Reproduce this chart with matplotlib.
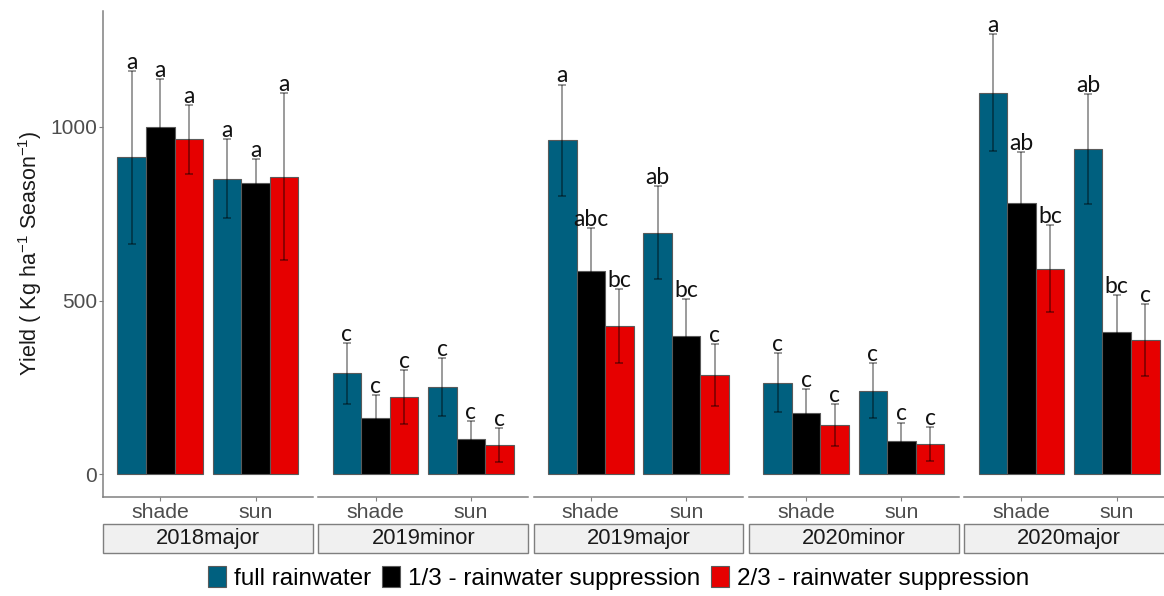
import matplotlib
matplotlib.use("Agg")
import matplotlib.pyplot as plt
import numpy as np
from matplotlib.patches import Rectangle, Patch

plt.rcParams['font.family'] = ['Liberation Sans', 'DejaVu Sans']
plt.rcParams['mathtext.default'] = 'regular'

# data
seasons = ['2018major', '2019minor', '2019major', '2020minor', '2020major']
lights = ['shade', 'sun']
treatments = ['full rainwater', '1/3 - rainwater suppression', '2/3 - rainwater suppression']

# order: season x light  (shade, sun) for every season
full_mean = [912, 851, 291, 252, 962, 696, 264, 241, 1099, 936]
third_mean = [1000, 838, 163, 102, 585, 398, 177, 97, 780, 410]
twothird_mean = [964, 857, 223, 84, 427, 286, 142, 87, 592, 386]

full_se = [250, 113, 88, 83, 160, 135, 84, 80, 169, 159]
third_se = [137, 69, 65, 52, 123, 106, 69, 52, 148, 107]
twothird_se = [100, 241, 78, 48, 107, 88, 61, 48, 125, 103]

full_let = ['a', 'a', 'c', 'c', 'a', 'ab', 'c', 'c', 'a', 'ab']
third_let = ['a', 'a', 'c', 'c', 'abc', 'bc', 'c', 'c', 'ab', 'bc']
twothird_let = ['a', 'a', 'c', 'c', 'bc', 'c', 'c', 'c', 'bc', 'c']

colors = ['#00607f', '#000000', '#e60000']
means = [full_mean, third_mean, twothird_mean]
ses = [full_se, third_se, twothird_se]
lets = [full_let, third_let, twothird_let]

W, H = 1164, 596
fig = plt.figure(figsize=(W / 100, H / 100), dpi=100)

x0 = 103
pw = 209.8
gap = 5.5
ybot = 496.7
ytop = 11
axh = ybot - ytop

grey = '#4d4d4d'
for i, s in enumerate(seasons):
    left = x0 + i * (pw + gap)
    ax = fig.add_axes([left / W, (H - ybot) / H, pw / W, axh / H])
    ax.set_xlim(0.4, 2.6)
    ax.set_ylim(-64.5, 1333.6)
    for t in range(3):
        xs = np.arange(1, 3) + (t - 1) * 0.3
        m = np.array(means[t][2 * i:2 * i + 2])
        e = np.array(ses[t][2 * i:2 * i + 2])
        ax.bar(xs, m, width=0.3, color=colors[t], edgecolor='#5a5a5a', linewidth=0.8, zorder=2)
        ax.errorbar(xs, m, yerr=e, fmt='none', ecolor='black', alpha=0.5,
                    elinewidth=1.1, capsize=2.6, capthick=1.1, zorder=3)
        for j in range(2):
            ax.annotate(lets[t][2 * i + j], (xs[j], m[j] + e[j]), xytext=(0, 1.5),
                        textcoords='offset points', ha='center', va='baseline',
                        fontsize=16.5, family=['Lato', 'DejaVu Sans'], color='#111111', zorder=4)

    for sp in ['top', 'right']:
        ax.spines[sp].set_visible(False)
    ax.spines['bottom'].set_color('#808080')
    ax.spines['bottom'].set_linewidth(1.1)
    ax.set_xticks([1, 2])
    ax.set_xticklabels(lights)
    ax.tick_params(axis='x', length=2.8, width=0.8, color='#808080', pad=1.8,
                   labelsize=15.3, labelcolor=grey)
    if i == 0:
        ax.spines['left'].set_color('#808080')
        ax.spines['left'].set_linewidth(1.1)
        ax.set_yticks([0, 500, 1000])
        ax.tick_params(axis='y', length=2.8, width=0.8, color='#808080', pad=1.5,
                       labelsize=15, labelcolor=grey)
    else:
        ax.spines['left'].set_visible(False)
        ax.set_yticks([])

    # facet strip below the axis
    sb = (ybot - 553.3) / axh
    sh = (553.3 - 524.3) / axh
    ax.add_patch(Rectangle((0, sb), 1, sh, transform=ax.transAxes, clip_on=False,
                           facecolor='#f0f0f0', edgecolor='#7f7f7f', linewidth=1.0))
    ax.text(0.5, sb + sh / 2, s, transform=ax.transAxes, ha='center', va='center',
            fontsize=15.8, color='#1a1a1a')

fig.text(30 / W, (H - 253.5) / H, r'Yield ( Kg ha$^{-1}$ Season$^{-1}$)', rotation=90,
         ha='center', va='center', fontsize=15.5, color='#1a1a1a')

handles = [Patch(facecolor=c, edgecolor='#5a5a5a', linewidth=0.8) for c in colors]
fig.legend(handles, treatments, loc='center', bbox_to_anchor=((204 + 1033) / 2 / W, (H - 578) / H),
           ncol=3, frameon=False, fontsize=17.5, handlelength=0.75, handleheight=0.97,
           handletextpad=0.32, columnspacing=0.45, borderaxespad=0, borderpad=0)

fig.savefig('out.png', dpi=100)
